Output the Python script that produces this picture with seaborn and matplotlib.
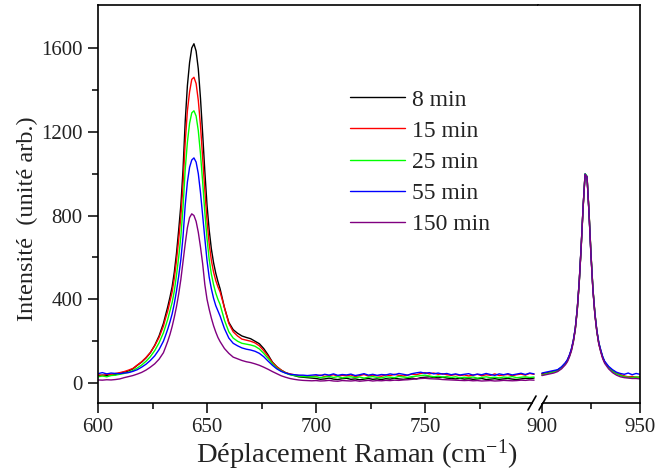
import numpy as np
import pandas as pd
import matplotlib
matplotlib.use("Agg")
import matplotlib.pyplot as plt
from matplotlib.lines import Line2D
import seaborn as sns

# ---------------- data ----------------
series_names = ["8 min", "15 min", "25 min", "55 min", "150 min"]
series_colors = ["#000000", "#FF0000", "#00FF00", "#0000FF", "#800080"]

x_left = list(range(600, 630, 2)) + list(range(630, 657)) + list(range(658, 801, 2))
x_right = [900, 902, 904, 906, 908, 910, 912, 913, 914, 915, 916, 917, 918, 919,
           920, 921, 922, 923, 924, 925, 926, 927, 928, 929, 930, 931, 932, 934,
           936, 938, 940, 942, 944, 946, 948, 950]

black_left = [35, 38, 36, 42, 40, 48, 52, 58, 68, 85, 100, 120, 145, 180, 225,
              285, 325, 365, 410, 460, 530, 620, 730, 850, 1020, 1250, 1420, 1530, 1600,
              1620, 1585, 1500, 1360, 1190, 1010, 850, 730, 640, 575, 525, 485, 450,
              360, 290, 255, 238, 225, 218, 212, 200, 188, 165, 135, 100, 78, 62, 50, 42,
              36, 30, 28, 26, 24,
              22, 18, 20, 24, 19, 17, 21, 23, 18, 20, 16, 19, 22, 18, 20, 17, 21, 19, 23, 20,
              18, 21, 24, 20, 26, 28, 30, 27, 25, 28, 24, 22, 20, 23, 19, 21, 18, 20, 22, 17,
              19, 21, 18, 20, 22, 19, 17, 20, 23, 21, 24]
red_left = [40, 36, 42, 40, 46, 50, 55, 62, 70, 86, 102, 122, 146, 178, 218,
            272, 310, 345, 390, 435, 500, 585, 685, 795, 950, 1150, 1300, 1390, 1450,
            1460, 1430, 1350, 1230, 1075, 920, 775, 665, 585, 530, 490, 460, 435,
            360, 285, 245, 225, 210, 205, 200, 192, 178, 155, 128, 98, 78, 62, 50, 44,
            40, 36, 34, 32, 32,
            34, 38, 32, 36, 40, 33, 37, 35, 39, 31, 36, 41, 34, 38, 35, 33, 39, 36, 42, 37,
            34, 38, 43, 40, 46, 50, 44, 48, 42, 45, 40, 37, 41, 36, 39, 34, 38, 42, 35, 40,
            37, 44, 36, 39, 41, 35, 40, 43, 38, 46, 42]
green_left = [30, 34, 30, 36, 38, 42, 46, 52, 60, 72, 86, 104, 126, 155, 192,
              240, 272, 305, 345, 385, 440, 515, 600, 700, 840, 1020, 1150, 1240, 1290,
              1300, 1275, 1205, 1095, 960, 815, 690, 590, 520, 470, 430, 400, 375,
              300, 245, 215, 200, 190, 186, 182, 176, 163, 142, 118, 92, 72, 58, 48, 40,
              36, 33, 31, 30, 30,
              30, 26, 29, 32, 27, 31, 25, 28, 30, 26, 29, 24, 28, 31, 27, 25, 30, 28, 26, 32,
              29, 27, 31, 33, 36, 38, 34, 30, 33, 29, 31, 27, 30, 25, 28, 26, 29, 24, 27, 30,
              26, 28, 25, 29, 27, 31, 26, 28, 30, 27, 29]
blue_left = [45, 50, 44, 48, 46, 45, 48, 50, 56, 64, 76, 90, 108, 130, 160,
             200, 228, 258, 292, 330, 380, 440, 510, 590, 700, 850, 960, 1030, 1065,
             1075, 1055, 1000, 910, 800, 690, 585, 505, 450, 405, 370, 345, 320,
             260, 215, 190, 178, 168, 162, 158, 152, 142, 126, 105, 85, 68, 56, 48, 42,
             40, 38, 38, 36, 38,
             40, 36, 42, 38, 44, 37, 41, 39, 43, 36, 40, 45, 38, 42, 37, 41, 39, 44, 40, 46,
             42, 38, 45, 49, 52, 47, 50, 44, 48, 43, 46, 40, 44, 39, 42, 45, 38, 43, 40, 46,
             41, 37, 44, 40, 45, 39, 43, 47, 41, 48, 44]
purple_left = [15, 14, 16, 15, 17, 20, 26, 31, 36, 43, 51, 62, 76, 92, 114,
               145, 172, 200, 232, 270, 315, 365, 425, 495, 580, 665, 742, 790, 808,
               800, 772, 720, 650, 570, 470, 400, 352, 310, 274, 244, 218, 198,
               165, 142, 124, 116, 108, 102, 98, 92, 85, 76, 66, 55, 45, 35, 28, 22,
               18, 15, 13, 12, 11,
               12, 10, 11, 13, 10, 9, 12, 11, 10, 12, 9, 11, 13, 10, 12, 11, 13, 12, 14, 13,
               15, 16, 18, 20, 22, 23, 21, 20, 19, 17, 16, 15, 14, 13, 12, 13, 11, 12, 10, 11,
               12, 10, 11, 13, 12, 11, 12, 14, 13, 15, 14]

black_right = [45, 48, 52, 55, 62, 75, 95, 110, 130, 160, 200, 260, 350, 480, 650, 840,
               995, 985, 815, 615, 450, 330, 248, 190, 152, 122, 100, 74, 56, 46, 38, 32,
               28, 26, 24, 24]
red_right = [42, 46, 50, 56, 60, 74, 96, 108, 132, 158, 202, 258, 352, 482, 648, 842,
             998, 982, 818, 618, 448, 334, 250, 188, 154, 120, 102, 76, 60, 48, 40, 34,
             30, 32, 28, 30]
green_right = [38, 44, 48, 54, 58, 72, 92, 106, 128, 156, 198, 256, 348, 478, 646, 838,
               1000, 988, 820, 620, 452, 336, 246, 192, 156, 124, 100, 74, 56, 44, 36, 30,
               28, 26, 30, 26]
blue_right = [48, 52, 56, 60, 64, 78, 98, 112, 134, 162, 204, 262, 354, 484, 652, 844,
              998, 984, 812, 612, 446, 332, 252, 194, 158, 126, 104, 80, 64, 52, 46, 42,
              48, 40, 46, 42]
purple_right = [36, 40, 44, 48, 55, 68, 88, 102, 124, 152, 194, 254, 346, 476, 644, 836,
                996, 984, 814, 610, 444, 326, 244, 186, 148, 116, 94, 68, 50, 38, 30, 26,
                24, 22, 22, 20]

left_vals = [black_left, red_left, green_left, blue_left, purple_left]
right_vals = [black_right, red_right, green_right, blue_right, purple_right]

x_major_left = [600, 650, 700, 750]
x_minor_left = [625, 675, 725, 775]
x_major_right = [900, 950]
x_minor_right = [925]
y_major = [0, 400, 800, 1200, 1600]
y_minor = [200, 600, 1000, 1400]

# ---------------- frames ----------------
def long_frame(xs, vals):
    rows = []
    for name, v in zip(series_names, vals):
        rows.append(pd.DataFrame({"x": xs, "y": v, "series": name}))
    return pd.concat(rows, ignore_index=True)

df_left = long_frame(x_left, left_vals)
df_right = long_frame(x_right, right_vals)

# ---------------- style ----------------
sns.set_theme(style="ticks")
plt.rcParams["font.family"] = ["Liberation Serif", "DejaVu Serif"]
plt.rcParams["mathtext.fontset"] = "custom"
plt.rcParams["mathtext.rm"] = "Liberation Serif"
plt.rcParams["mathtext.it"] = "Liberation Serif:italic"
plt.rcParams["axes.linewidth"] = 1.2

W, H = 659, 474
fig = plt.figure(figsize=(W / 100, H / 100), dpi=100)
fig.patch.set_facecolor("white")

L, R, T, B, BRK = 98, 640, 5, 403, 538
ax1 = fig.add_axes([L / W, 1 - B / H, (BRK - L) / W, (B - T) / H])
ax2 = fig.add_axes([BRK / W, 1 - B / H, (R - BRK) / W, (B - T) / H])

pal = dict(zip(series_names, series_colors))
sns.lineplot(data=df_left, x="x", y="y", hue="series", palette=pal,
             hue_order=series_names, estimator=None, sort=False,
             linewidth=1.0, ax=ax1)
sns.lineplot(data=df_right, x="x", y="y", hue="series", palette=pal,
             hue_order=series_names, estimator=None, sort=False,
             linewidth=1.0, ax=ax2, legend=False)

ylim = (-95, 1805)
ax1.set_xlim(600, 801.8)
ax2.set_xlim(898, 950)
for ax in (ax1, ax2):
    ax.set_ylim(*ylim)
    ax.set_xlabel("")
    ax.set_ylabel("")
    ax.set_facecolor("white")
    ax.tick_params(axis="both", which="major", direction="out", length=7,
                   width=1.1, labelsize=15, pad=4, color="black", labelcolor="#222222")
    ax.tick_params(axis="both", which="minor", direction="out", length=4,
                   width=1.1, color="black")
    for s in ax.spines.values():
        s.set_color("black")
        s.set_linewidth(1.2)

ax1.set_xticks(x_major_left)
ax1.set_xticks(x_minor_left, minor=True)
ax1.set_yticks(y_major)
ax1.set_yticks(y_minor, minor=True)
ax1.spines["right"].set_visible(False)
ax1.spines["bottom"].set_bounds(600, 799)

ax2.set_xticks(x_major_right)
ax2.set_xticks(x_minor_right, minor=True)
ax2.set_yticks([])
ax2.spines["left"].set_visible(False)
ax2.spines["bottom"].set_bounds(900.5, 950)

# break marks on bottom axis
for x0 in (532, 543):
    fig.add_artist(Line2D([(x0 - 4) / W, (x0 + 4) / W], [1 - (B + 7) / H, 1 - (B - 7) / H],
                          transform=fig.transFigure, color="black", lw=1.2))

# legend
handles, labels = ax1.get_legend_handles_labels()
if ax1.get_legend() is not None:
    ax1.get_legend().remove()
fig.legend(handles, labels, loc="upper left", bbox_to_anchor=(350 / W, 1 - 89 / H),
           bbox_transform=fig.transFigure, frameon=False, fontsize=17,
           handlelength=2.33, handletextpad=0.3, labelspacing=0.41,
           borderpad=0, borderaxespad=0, labelcolor="#222222")

fig.text(357 / W, 1 - 455 / H, "Déplacement Raman (cm$^{\\mathrm{-1}}$)", ha="center",
         va="center", fontsize=20.5, color="#222222")
fig.text(27 / W, 1 - 219 / H, "Intensité  (unité arb.)", ha="center", va="center",
         rotation=90, fontsize=17.5, color="#222222")

fig.savefig("out.png", dpi=100, facecolor="white")
